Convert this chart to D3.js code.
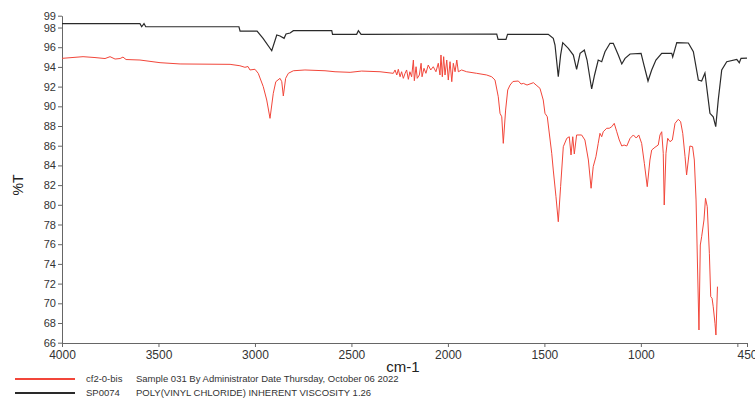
<!DOCTYPE html>
<html>
<head>
<meta charset="utf-8">
<script src="https://cdn.jsdelivr.net/npm/d3@7"></script>
<style>
  body { margin: 0; background: #fff; }
  svg { font-family: "Liberation Sans", Arial, sans-serif; }
</style>
</head>
<body>
<div id="chart"></div>
<script>
// tick values (the top tick sits at the axis end, labelled 99)
const xTicks = [4000, 3500, 3000, 2500, 2000, 1500, 1000, 500, 450];
const yTicks = [66, 68, 70, 72, 74, 76, 78, 80, 82, 84, 86, 88, 90, 92, 94, 96, 98, 99.2];

// reference spectrum (black): wavenumber, %T
const blackWn = [4000, 3596, 3587, 3575, 3566, 3083, 3077, 2989, 2958, 2913, 2887, 2870, 2849, 2839, 2818, 2801,
  2602, 2598, 2473, 2464, 2450, 1747, 1740, 1699, 1691, 1480, 1454, 1445, 1428, 1416, 1405, 1376, 1350, 1333,
  1315, 1293, 1279, 1255, 1240, 1221, 1203, 1186, 1160, 1143, 1117, 1099, 1082, 1056, 999, 984, 963, 944, 922,
  892, 840, 835, 814, 754, 728, 702, 685, 668, 642, 625, 612, 599, 581, 555, 503, 490, 481, 450];
const blackT = [98.39, 98.39, 98.08, 98.4, 98.08, 98.08, 97.64, 97.64, 96.9, 95.64, 97.24, 97.14, 96.9, 97.34, 97.44, 97.68,
  97.68, 97.31, 97.31, 97.68, 97.31, 97.34, 96.8, 96.8, 97.31, 97.31, 96.9, 96.22, 93.0, 95.2, 96.46, 95.89, 95.2, 93.74,
  95.38, 95.72, 94.7, 91.76, 93.18, 94.7, 94.53, 95.54, 96.4, 96.4, 95.2, 94.3, 94.87, 95.31, 95.38, 94.19, 92.57, 93.69, 94.7,
  95.38, 95.38, 95.0, 96.46, 96.43, 95.54, 92.67, 92.57, 93.38, 89.29, 88.94, 87.93, 90.64, 93.69, 94.53, 94.77, 94.43, 94.87, 94.9];

// sample spectrum (red): wavenumber, %T
const redWn = [4000, 3891, 3829, 3777, 3751, 3725, 3699, 3684, 3668, 3596, 3492, 3388, 3129, 3078, 3052, 3036, 3026, 3000,
  2983, 2957, 2939, 2922, 2905, 2892, 2870, 2861, 2853, 2841, 2827, 2801, 2741, 2637, 2585, 2507, 2447, 2352, 2283,
  2274, 2265, 2257, 2248, 2240, 2231, 2222, 2214, 2205, 2197, 2188, 2179, 2174, 2165, 2159, 2148, 2139, 2134, 2124,
  2114, 2102, 2089, 2076, 2062, 2050, 2041, 2036, 2029, 2022, 2015, 2006, 1998, 1989, 1980, 1972, 1963, 1954, 1946,
  1929, 1903, 1851, 1799, 1773, 1756, 1739, 1730, 1721, 1713, 1701, 1690, 1678, 1663, 1635, 1621, 1609, 1590, 1557,
  1543, 1523, 1506, 1497, 1485, 1462, 1454, 1440, 1428, 1416, 1402, 1384, 1371, 1362, 1353, 1345, 1333, 1307, 1290,
  1272, 1258, 1247, 1233, 1221, 1212, 1203, 1195, 1177, 1164, 1151, 1138, 1125, 1112, 1099, 1087, 1073, 1056, 1039,
  1024, 1011, 996, 982, 967, 953, 944, 927, 910, 901, 892, 884, 879, 870, 861, 849, 837, 823, 806, 794, 783, 771,
  763, 754, 746, 732, 723, 714, 706, 699, 692, 685, 673, 665, 656, 645, 638, 631, 625, 616, 611, 603];
const redT = [94.87, 95.04, 94.95, 94.85, 95.04, 94.8, 94.85, 95.0, 94.75, 94.7, 94.43, 94.3, 94.26, 94.12, 93.96, 94.04, 93.69, 93.76,
  93.35, 92.0, 90.64, 88.78, 91.32, 92.5, 92.84, 92.5, 91.05, 92.84, 93.35, 93.61, 93.69, 93.61, 93.51, 93.45, 93.58, 93.51, 93.35,
  93.69, 93.18, 93.76, 93.0, 93.51, 92.84, 93.35, 93.69, 92.74, 93.51, 93.0, 94.7, 92.6, 94.02, 92.84, 93.18, 94.37, 93.0, 93.86,
  93.35, 94.19, 93.69, 94.02, 93.51, 94.37, 93.18, 95.21, 93.0, 95.04, 93.18, 94.7, 92.67, 94.53, 92.5, 94.37, 93.51, 94.7, 93.51,
  93.69, 93.51, 93.35, 93.18, 93.0, 92.67, 90.97, 89.29, 88.94, 86.24, 89.62, 91.66, 92.16, 92.52, 92.57, 92.26, 92.33, 92.16, 92.4,
  92.16, 91.83, 90.64, 89.29, 88.94, 85.23, 83.53, 80.82, 78.28, 81.84, 85.9, 86.75, 86.91, 85.06, 86.91, 85.16, 87.09, 87.09, 86.58,
  84.55, 81.68, 83.87, 84.88, 86.24, 87.26, 86.91, 87.42, 87.77, 87.77, 87.93, 88.27, 87.42, 86.58, 85.97, 86.07, 85.97, 86.75, 87.09,
  86.78, 87.09, 86.24, 84.21, 81.84, 84.55, 85.56, 85.84, 86.07, 87.09, 87.42, 85.23, 79.98, 85.23, 86.75, 86.41, 86.58, 88.27, 88.68, 88.44, 87.26, 84.88,
  83.03, 84.55, 85.97, 85.9, 84.55, 80.49, 73.38, 67.29, 75.92, 76.76, 78.46, 80.66, 79.81, 75.08, 70.67, 70.51, 69.65, 67.97, 66.78, 71.69];

const legendNames = ["cf2-0-bis", "SP0074"];
const legendDesc = ["Sample 031 By Administrator Date Thursday, October 06 2022", "POLY(VINYL CHLORIDE) INHERENT VISCOSITY 1.26"];
const legendColors = ["#f2463a", "#2a2a2a"];

const W = 755, H = 402;

const svg = d3.select("#chart")
  .append("svg")
  .attr("width", W)
  .attr("height", H);

const x = d3.scaleLinear().domain([4000, 450]).range([62, 747]);
const y = d3.scaleLinear().domain([66, 99.2]).range([342.7, 15.7]);

// x axis
svg.append("g")
  .attr("transform", "translate(0,343)")
  .call(d3.axisBottom(x).tickValues(xTicks).tickSize(4).tickSizeOuter(0)
    .tickFormat((d) => d === 500 ? "" : d))
  .call((g) => g.selectAll("path,line").attr("stroke", "#666"))
  .call((g) => g.selectAll("text").attr("fill", "#333").style("font-size", "12px"));

// y axis
svg.append("g")
  .attr("transform", "translate(62,0)")
  .call(d3.axisLeft(y).tickValues(yTicks).tickSize(4).tickSizeOuter(0).tickPadding(2)
    .tickFormat(d3.format(".0f")))
  .call((g) => g.selectAll("path,line").attr("stroke", "#666"))
  .call((g) => g.selectAll("text").attr("fill", "#333").style("font-size", "11px"));

// axis titles
svg.append("text")
  .attr("transform", "rotate(-90)")
  .attr("x", -185)
  .attr("y", 23)
  .style("text-anchor", "middle")
  .style("font-size", "14px")
  .attr("fill", "#222")
  .text("%T");

svg.append("text")
  .attr("x", 403)
  .attr("y", 372)
  .style("text-anchor", "middle")
  .style("font-size", "15px")
  .attr("fill", "#222")
  .text("cm-1");

// spectra
const line = d3.line()
  .x((d) => x(d[0]))
  .y((d) => y(d[1]));

const blackData = blackWn.map((w, i) => [w, blackT[i]]);
const redData = redWn.map((w, i) => [w, redT[i]]);

svg.append("path")
  .datum(blackData)
  .attr("fill", "none")
  .attr("stroke", legendColors[1])
  .attr("stroke-width", 1.2)
  .attr("d", line);

svg.append("path")
  .datum(redData)
  .attr("fill", "none")
  .attr("stroke", legendColors[0])
  .attr("stroke-width", 1)
  .attr("d", line);

// legend
const legend = svg.selectAll(".legend")
  .data(legendNames)
  .enter()
  .append("g")
  .attr("class", "legend")
  .attr("transform", (d, i) => `translate(0, ${379 + i * 14})`);

legend.append("line")
  .attr("x1", 15).attr("x2", 75)
  .attr("stroke", (d, i) => legendColors[i])
  .attr("stroke-width", 2);

legend.append("text")
  .attr("x", 86).attr("y", 3)
  .style("font-size", "9.5px")
  .attr("fill", "#333")
  .text((d) => d);

legend.append("text")
  .attr("x", 136).attr("y", 3)
  .style("font-size", "9.5px")
  .attr("fill", "#333")
  .text((d, i) => legendDesc[i]);
</script>
</body>
</html>
